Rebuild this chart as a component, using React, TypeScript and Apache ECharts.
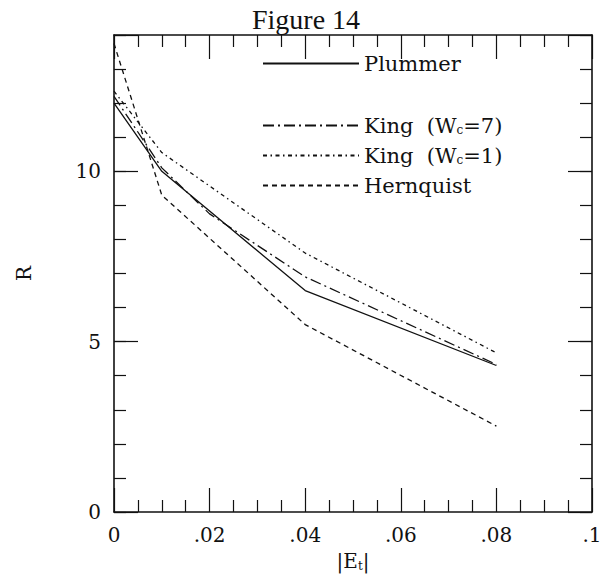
import React, { useEffect, useRef } from "react";
import * as echarts from "echarts";

const plummerX = [0, 0.01, 0.04, 0.08];
const plummerY = [12.0, 10.0, 6.5, 4.3];
const king7X = [0, 0.01, 0.02, 0.04, 0.08];
const king7Y = [12.2, 10.1, 8.75, 6.9, 4.33];
const king1X = [0, 0.01, 0.04, 0.08];
const king1Y = [12.35, 10.55, 7.6, 4.67];
const hernX = [0, 0.01, 0.04, 0.08];
const hernY = [13.75, 9.3, 5.5, 2.52];

const xTickLabels = ["0", ".02", ".04", ".06", ".08", ".1"];
const yTickLabels = ["0", "5", "10"];

const seriesNames = ["Plummer", "King  (Wc=7)", "King  (Wc=1)", "Hernquist"];

const FONT = "DejaVu Serif";
const INK = "#111";

function pairs(xs: number[], ys: number[]) {
  return xs.map((x, i) => [x, ys[i]]);
}

export default function App() {
  const ref = useRef<HTMLDivElement>(null);
  useEffect(() => {
    document.body.style.margin = "0";
    const chart = echarts.init(ref.current!, null, { renderer: "svg" });
    const lineW = 1.3;
    const xBase = {
      type: "value",
      min: 0,
      max: 0.1,
      interval: 0.02,
      axisLine: { show: true, onZero: false, lineStyle: { color: INK, width: 1.6 } },
      axisTick: { show: true, inside: true, length: 24, lineStyle: { color: INK, width: 1.2 } },
      minorTick: { show: true, splitNumber: 4, length: 12, lineStyle: { color: INK, width: 1.2 } },
      splitLine: { show: false },
    };
    const yMinor = {
      type: "value",
      min: 0,
      max: 14,
      interval: 1,
      axisLine: { show: true, onZero: false, lineStyle: { color: INK, width: 1.6 } },
      axisTick: { show: true, inside: true, length: 12, lineStyle: { color: INK, width: 1.2 } },
      splitLine: { show: false },
    };
    const yMajor = {
      type: "value",
      min: 0,
      max: 14,
      interval: 5,
      axisLine: { show: false, onZero: false },
      axisTick: { show: true, inside: true, length: 24, lineStyle: { color: INK, width: 1.2 } },
      axisLabel: { show: false },
      splitLine: { show: false },
    };
    const legendText = {
      fontFamily: FONT,
      fontSize: 21,
      color: INK,
      lineHeight: 20,
      rich: {
        n: { fontFamily: FONT, fontSize: 21, color: INK, lineHeight: 20 },
        s: { fontFamily: FONT, fontSize: 12, color: INK, lineHeight: 14, verticalAlign: "bottom" },
      },
    };
    const legendFormatter = (name: string) => {
      if (name.indexOf("Wc") >= 0) {
        const parts = name.split("Wc");
        return "{n|" + parts[0] + "W}{s|c}{n|" + parts[1] + "}";
      }
      return "{n|" + name + "}";
    };
    const option: any = {
      animation: false,
      backgroundColor: "#fff",
      title: {
        text: "Figure 14",
        left: 247,
        top: 0,
        textStyle: { fontFamily: "Liberation Serif", fontSize: 28, fontWeight: "normal", color: INK },
      },
      grid: { left: 114, right: 21, top: 35, bottom: 68, containLabel: false },
      legend: [
        {
          data: [seriesNames[0]],
          left: 257,
          top: 48,
          itemWidth: 96,
          itemHeight: 14,
          itemStyle: { opacity: 0 },
          textStyle: legendText,
          formatter: legendFormatter,
        },
        {
          data: seriesNames.slice(1),
          orient: "vertical",
          left: 257,
          top: 110,
          itemWidth: 96,
          itemHeight: 14,
          itemGap: 9,
          itemStyle: { opacity: 0 },
          textStyle: legendText,
          formatter: legendFormatter,
        },
      ],
      xAxis: [
        {
          ...xBase,
          position: "bottom",
          name: "|E{s|t}|",
          nameLocation: "middle",
          nameGap: 34,
          nameTextStyle: {
            fontFamily: FONT,
            fontSize: 20,
            color: INK,
            lineHeight: 22,
            rich: { s: { fontFamily: FONT, fontSize: 12, color: INK, lineHeight: 14, verticalAlign: "bottom" } },
          },
          axisLabel: {
            show: true,
            margin: 13,
            fontFamily: FONT,
            fontSize: 20,
            color: INK,
            formatter: (v: number) => xTickLabels[Math.round(v / 0.02)] ?? "",
          },
        },
        {
          ...xBase,
          position: "top",
          axisLabel: { show: false },
        },
      ],
      yAxis: [
        {
          ...yMinor,
          position: "left",
          name: "R",
          nameLocation: "middle",
          nameGap: 80,
          nameRotate: 90,
          nameTextStyle: { fontFamily: FONT, fontSize: 20, color: INK },
          axisLabel: {
            show: true,
            margin: 13,
            fontFamily: FONT,
            fontSize: 20,
            color: INK,
            formatter: (v: number) => (v % 5 === 0 ? yTickLabels[v / 5] ?? "" : ""),
          },
        },
        { ...yMajor, position: "left" },
        { ...yMinor, position: "right", axisLabel: { show: false } },
        { ...yMajor, position: "right" },
      ],
      series: [
        {
          name: seriesNames[0],
          type: "line",
          data: pairs(plummerX, plummerY),
          symbol: "none",
          lineStyle: { color: INK, width: lineW, type: "solid" },
          itemStyle: { color: INK },
        },
        {
          name: seriesNames[1],
          type: "line",
          data: pairs(king7X, king7Y),
          symbol: "none",
          lineStyle: { color: INK, width: lineW, type: [11, 4, 2, 4] },
          itemStyle: { color: INK },
        },
        {
          name: seriesNames[2],
          type: "line",
          data: pairs(king1X, king1Y),
          symbol: "none",
          lineStyle: { color: INK, width: lineW, type: [4, 3.5, 1.5, 3.5] },
          itemStyle: { color: INK },
        },
        {
          name: seriesNames[3],
          type: "line",
          data: pairs(hernX, hernY),
          symbol: "none",
          lineStyle: { color: INK, width: lineW, type: [5, 4] },
          itemStyle: { color: INK },
        },
      ],
    };
    chart.setOption(option);
    return () => chart.dispose();
  }, []);
  return <div ref={ref} style={{ width: 613, height: 580 }} />;
}
